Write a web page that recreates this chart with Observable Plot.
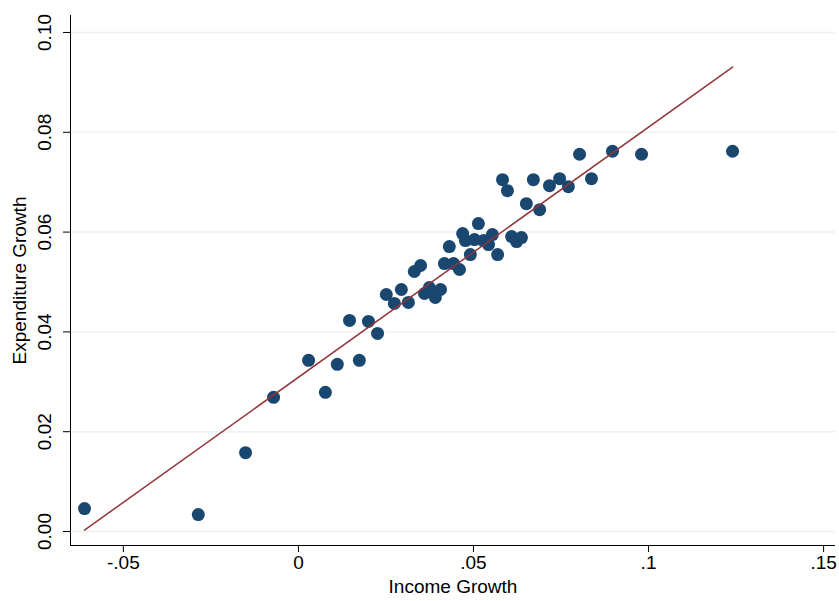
<!DOCTYPE html>
<html>
<head>
<meta charset="utf-8">
<script src="https://cdn.jsdelivr.net/npm/d3@7"></script>
<script src="https://cdn.jsdelivr.net/npm/@observablehq/plot@0.6"></script>
<style>
  body { margin: 0; background: #fff; }
  #chart { width: 839px; height: 601px; }
</style>
</head>
<body>
<div id="chart"></div>
<script>
// values
const incomeGrowth = [-0.0611, -0.0286, -0.0151, -0.0071, 0.0029, 0.0077, 0.0111, 0.0146, 0.0174, 0.0200,
  0.0226, 0.0251, 0.0274, 0.0294, 0.0314, 0.0331, 0.0349, 0.0360, 0.0374, 0.0391,
  0.0406, 0.0417, 0.0431, 0.0443, 0.0460, 0.0469, 0.0477, 0.0491, 0.0503, 0.0514,
  0.0529, 0.0543, 0.0554, 0.0569, 0.0583, 0.0597, 0.0609, 0.0623, 0.0637, 0.0651,
  0.0671, 0.0689, 0.0717, 0.0746, 0.0771, 0.0803, 0.0837, 0.0897, 0.0980, 0.1240];
const expenditureGrowth = [0.0046, 0.0034, 0.0158, 0.0269, 0.0343, 0.0279, 0.0335, 0.0423, 0.0343, 0.0421,
  0.0397, 0.0475, 0.0457, 0.0485, 0.0459, 0.0521, 0.0533, 0.0477, 0.0489, 0.0469,
  0.0485, 0.0537, 0.0571, 0.0537, 0.0525, 0.0597, 0.0583, 0.0555, 0.0585, 0.0617,
  0.0583, 0.0575, 0.0595, 0.0555, 0.0705, 0.0683, 0.0591, 0.0581, 0.0589, 0.0657,
  0.0705, 0.0645, 0.0693, 0.0707, 0.0691, 0.0756, 0.0707, 0.0762, 0.0756, 0.0762];
const xTicks = [-0.05, 0, 0.05, 0.1, 0.15];
const yTicks = [0, 0.02, 0.04, 0.06, 0.08, 0.10];

const points = incomeGrowth.map((x, i) => ({x, y: expenditureGrowth[i]}));
const xMin = -0.0651, yMin = -0.0028;

// Stata style: ".05", "-.05", "0"
const xFmt = d => d === 0 ? "0" : String(+d.toFixed(2)).replace(/^(-?)0\./, "$1.");
const yFmt = d => d.toFixed(2);

const chart = Plot.plot({
  width: 839,
  height: 601,
  marginLeft: 70,
  marginRight: 4,
  marginTop: 15,
  marginBottom: 56,
  style: { fontFamily: '"Liberation Sans", Arial, sans-serif', fontSize: "18px", color: "#000" },
  x: { domain: [xMin, 0.1534] },
  y: { domain: [yMin, 0.1034] },
  marks: [
    Plot.gridY(yTicks, { stroke: "#eaf2f3", strokeOpacity: 1, strokeWidth: 1.5 }),
    Plot.axisX({ ticks: xTicks, tickFormat: xFmt, tickSize: 7, tickPadding: 3, fontSize: 19,
      label: "Income Growth", labelAnchor: "center", labelArrow: "none", labelOffset: 47 }),
    Plot.axisY({ ticks: yTicks, tickFormat: () => "", tickSize: 7,
      label: "Expenditure Growth", labelAnchor: "center", labelArrow: "none", labelOffset: 58, fontSize: 19 }),
    Plot.text(yTicks, { x: xMin, y: d => d, text: yFmt, rotate: -90, dx: -26, fontSize: 19, textAnchor: "middle" }),
    Plot.ruleX([xMin], { stroke: "#000" }),
    Plot.ruleY([yMin], { stroke: "#000" }),
    Plot.dot(points, { x: "x", y: "y", r: 6.5, fill: "#1a476f", stroke: "none" }),
    Plot.linearRegressionY(points, { x: "x", y: "y", ci: 0, stroke: "#90353b", strokeWidth: 1.5 })
  ]
});

document.getElementById("chart").append(chart);
</script>
</body>
</html>
